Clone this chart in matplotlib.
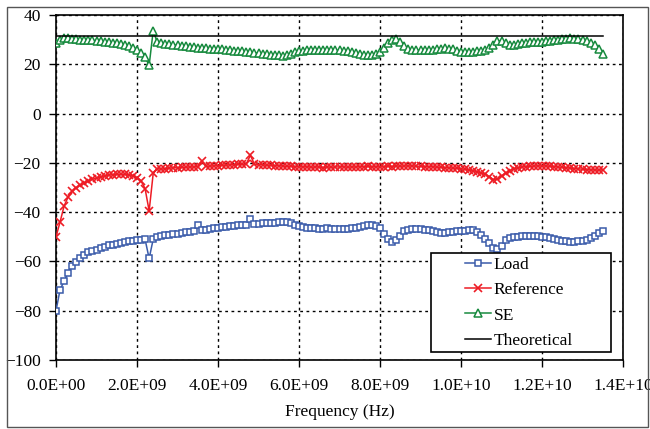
import matplotlib
matplotlib.use("Agg")
import matplotlib.pyplot as plt
from matplotlib.patches import Rectangle
from matplotlib.ticker import FuncFormatter
import numpy as np

plt.rcParams['font.family'] = ['Liberation Serif', 'DejaVu Serif']

# ---- data ----
freq_start = 0.0
freq_stop = 13.5e9
n_points = 136

load = [
    -80.0, -71.5, -68.0, -64.5, -62.0, -60.2, -58.5, -57.2, -56.3, -55.7,
    -55.2, -54.7, -54.1, -53.5, -53.2, -52.8, -52.5, -52.2, -51.9, -51.6,
    -51.3, -51.2, -51.1, -58.8, -51.0, -49.9, -49.6, -49.4, -49.2, -49.0,
    -48.7, -48.5, -48.2, -48.0, -47.7, -45.4, -47.3, -47.1, -46.8, -46.5,
    -46.3, -46.1, -45.9, -45.8, -45.6, -45.4, -45.3, -45.2, -42.6, -45.0,
    -44.8, -44.6, -44.5, -44.4, -44.3, -44.2, -44.1, -44.2, -44.6, -45.1,
    -45.6, -46.0, -46.3, -46.5, -46.6, -46.8, -46.7, -46.6, -46.7, -46.8,
    -46.8, -46.9, -46.7, -46.5, -46.3, -46.0, -45.6, -45.3, -45.3, -45.6,
    -46.5, -48.8, -51.0, -52.3, -51.5, -49.5, -47.8, -47.2, -47.0, -46.9,
    -47.0, -47.1, -47.4, -47.7, -48.0, -48.3, -48.4, -48.2, -47.9, -47.7,
    -47.6, -47.5, -47.3, -47.4, -48.0, -49.2, -50.8, -52.6, -54.5, -55.1,
    -53.8, -51.5, -50.6, -50.2, -50.0, -49.8, -49.6, -49.5, -49.6, -49.8,
    -50.0, -50.2, -50.6, -50.9, -51.3, -51.6, -51.9, -52.0, -52.1, -51.9,
    -51.6, -51.3, -50.6, -49.6, -48.6, -47.8,
]

reference = [
    -50.0, -44.0, -37.5, -33.8, -31.5, -30.0, -29.0, -28.2, -27.4, -26.7,
    -26.1, -25.7, -25.3, -25.0, -24.8, -24.7, -24.6, -24.7, -24.9, -25.3,
    -26.0, -27.3, -30.5, -39.5, -24.3, -22.3, -22.6, -22.3, -22.2, -21.9,
    -22.1, -21.8, -21.8, -21.6, -21.7, -21.5, -19.2, -21.4, -21.3, -21.2,
    -21.1, -20.9, -21.0, -20.7, -20.8, -20.5, -20.6, -20.4, -16.9, -20.6,
    -20.8, -20.7, -21.0, -20.9, -21.2, -21.1, -21.3, -21.4, -21.3, -21.6,
    -21.5, -21.7, -21.5, -21.8, -21.6, -21.7, -21.9, -21.6, -21.8, -21.6,
    -21.7, -21.5, -21.8, -21.6, -21.7, -21.5, -21.6, -21.4, -21.7, -21.5,
    -21.7, -21.5, -21.3, -21.5, -21.2, -21.4, -21.2, -21.3, -21.2, -21.4,
    -21.3, -21.5, -21.6, -21.5, -21.8, -21.7, -22.0, -21.9, -22.2, -22.1,
    -22.4, -22.6, -22.9, -23.2, -23.6, -24.1, -24.7, -25.6, -26.8, -26.5,
    -25.3, -24.2, -23.2, -22.5, -22.0, -21.7, -21.5, -21.4, -21.3, -21.2,
    -21.3, -21.2, -21.4, -21.5, -21.7, -21.8, -22.0, -22.1, -22.3, -22.4,
    -22.6, -22.7, -22.9, -22.8, -23.0, -22.8,
]

se = [
    28.5, 29.8, 30.6, 30.7, 30.4, 30.2, 30.0, 29.9, 29.8, 29.7,
    29.5, 29.4, 29.2, 29.0, 28.8, 28.5, 28.2, 27.8, 27.3, 26.6,
    25.8, 24.6, 22.8, 19.6, 33.6, 28.9, 28.6, 28.4, 28.1, 27.9,
    27.7, 27.5, 27.3, 27.1, 26.9, 26.8, 26.7, 26.6, 26.4, 26.3,
    26.2, 26.0, 25.8, 25.7, 25.5, 25.4, 25.2, 25.0, 24.9, 24.7,
    24.5, 24.3, 24.1, 23.9, 23.7, 23.6, 23.5, 23.6, 24.2, 24.8,
    25.2, 25.4, 25.6, 25.7, 25.8, 25.8, 25.8, 25.8, 25.8, 25.7,
    25.6, 25.4, 25.2, 24.9, 24.5, 24.2, 23.9, 23.8, 23.9, 24.0,
    24.8, 26.6, 28.5, 30.0, 30.2, 29.0, 27.5, 26.3, 25.8, 25.7,
    25.7, 25.8, 25.8, 25.9, 26.1, 26.3, 26.5, 26.4, 26.0, 25.5,
    25.0, 24.9, 25.0, 25.1, 25.2, 25.3, 25.8, 26.8, 28.0, 29.5,
    29.6, 28.6, 27.8, 28.0, 28.3, 28.5, 28.7, 28.9, 29.0, 29.1,
    29.2, 29.4, 29.6, 29.8, 30.0, 30.2, 30.4, 30.5, 30.4, 30.2,
    29.9, 29.5, 28.8, 27.8, 26.4, 24.0,
]

theo_freq = [0.0, 13.5e9]
theo_val = [31.5, 31.5]

series_names = ["Load", "Reference", "SE", "Theoretical"]
x_ticks = [0, 2e9, 4e9, 6e9, 8e9, 1e10, 1.2e10, 1.4e10]
y_ticks = [-100, -80, -60, -40, -20, 0, 20, 40]

freq = np.linspace(freq_start, freq_stop, n_points)

# ---- figure ----
W, H = 650, 429
fig = plt.figure(figsize=(W / 100, H / 100), dpi=100)
fig.patch.set_facecolor("white")

L, R, T, B = 56, 623, 15, 360
ax = fig.add_axes([L / W, 1 - B / H, (R - L) / W, (B - T) / H])

c_load = "#3A5BAA"
c_ref = "#EE1C25"
c_se = "#178A3E"

ax.plot(freq, load, color=c_load, lw=1.1, marker="s", ms=4.6, mfc="white",
        mec=c_load, mew=1.1, label=series_names[0], zorder=3)
ax.plot(freq, reference, color=c_ref, lw=1.1, marker="x", ms=6.0,
        mec=c_ref, mew=1.2, label=series_names[1], zorder=3)
ax.plot(freq, se, color=c_se, lw=1.1, marker="^", ms=5.8, mfc="white",
        mec=c_se, mew=1.1, label=series_names[2], zorder=3)
ax.plot(theo_freq, theo_val, color="black", lw=1.1, label=series_names[3], zorder=3)

ax.set_xlim(0, 1.4e10)
ax.set_ylim(-100, 40)
ax.set_xticks(x_ticks)
ax.set_yticks(y_ticks)
ax.xaxis.set_major_formatter(FuncFormatter(lambda v, p: "{:.1E}".format(v)))
ax.tick_params(axis="both", direction="out", length=5, width=1.0,
               labelsize=12.5, colors="black", pad=6)
ax.tick_params(axis="x", pad=8)
ax.grid(True, color="black", linestyle=(0, (2, 2.5)), linewidth=1.0)
for s in ax.spines.values():
    s.set_color("black")
    s.set_linewidth(1.2)

ax.set_xlabel("Frequency (Hz)", fontsize=12.5, labelpad=7)

# legend box
lx0, ly0, lx1, ly1 = 431, 253, 611, 352
box = Rectangle((lx0 / W, 1 - ly1 / H), (lx1 - lx0) / W, (ly1 - ly0) / H,
                transform=fig.transFigure, facecolor="white", edgecolor="black",
                linewidth=1.2, zorder=5)
fig.add_artist(box)
leg = fig.legend(loc="upper left", bbox_to_anchor=(465 / W, 1 - 257 / H),
                 frameon=False, fontsize=12.5, handlelength=1.5,
                 handletextpad=0.15, labelspacing=0.52, borderpad=0,
                 borderaxespad=0)
leg.set_zorder(6)

# outer border
fig.add_artist(Rectangle((7 / W, 1 - 427 / H), (648 - 7) / W, (427 - 7) / H,
                         transform=fig.transFigure, facecolor="none",
                         edgecolor="#555555", linewidth=1.0))

fig.savefig("out.png", dpi=100)
